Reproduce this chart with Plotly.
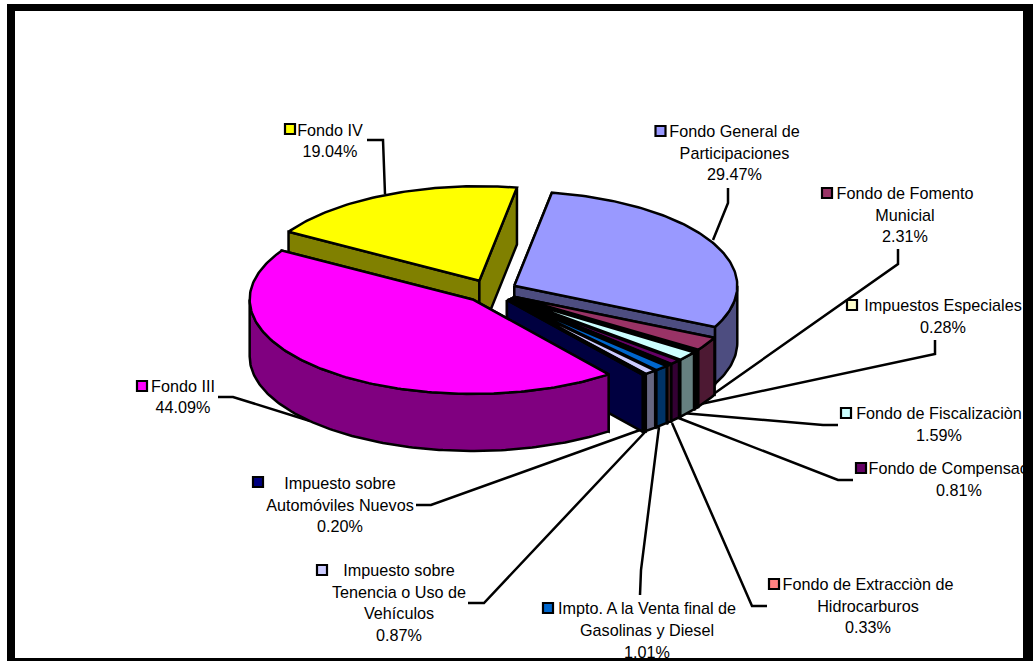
import math
import plotly.graph_objects as go

# ---- data ----
categories = ["Fondo General de Participaciones", "Fondo de Fomento Municial", "Impuestos Especiales",
              "Fondo de Fiscalizaciòn", "Fondo de Compensación", "Fondo de Extracciòn de Hidrocarburos",
              "Impto. A la Venta final de Gasolinas y Diesel", "Impuesto sobre Tenencia o Uso de Vehículos",
              "Impuesto sobre Automóviles Nuevos", "Fondo III", "Fondo IV"]
values = [29.47, 2.31, 0.28, 1.59, 0.81, 0.33, 1.01, 0.87, 0.20, 44.09, 19.04]
top_colors = ["#9999FF", "#993366", "#FFFFCC", "#CCFFFF", "#660066", "#FF8080",
              "#0066CC", "#CCCCFF", "#000080", "#FF00FF", "#FFFF00"]
side_colors = ["#4D4D80", "#4D1933", "#808066", "#668080", "#330033", "#804040",
               "#003366", "#666680", "#000040", "#800080", "#808000"]
label_lines = [["Fondo General de", "Participaciones"], ["Fondo de Fomento", "Municial"],
               ["Impuestos Especiales"], ["Fondo de Fiscalizaciòn"], ["Fondo de Compensación"],
               ["Fondo de Extracciòn de", "Hidrocarburos"], ["Impto. A la Venta final de", "Gasolinas y Diesel"],
               ["Impuesto sobre", "Tenencia o Uso de", "Vehículos"], ["Impuesto sobre", "Automóviles Nuevos"],
               ["Fondo III"], ["Fondo IV"]]

# ---- layout of the projected pie (pixels) ----
W, H = 1033, 661
CX, CY, A, B, DEPTH, EXPLODE = 490.5, 291, 223, 94.5, 57, 0.12
START = 9.7
FONT = "Liberation Sans, Arial, sans-serif"
FS = 16.2
LW = 2.5

# label layout: (centre x, first line y, line step, swatch x, swatch y)
label_pos = [(734.5, 133, 21.5, 660.5, 131), (905, 195, 21.5, 827, 193), (943, 307, 22, 852, 305),
             (939, 415, 22, 846, 413), (959, 470, 22, 861, 468), (868, 586, 21.5, 774, 584),
             (647, 610, 22, 548, 608), (399, 572, 21.7, 322, 570), (340, 485, 21.5, 258, 482),
             (183, 388, 21, 142, 386), (330, 132, 21, 290, 129)]
leaders = [[(728, 188), (728, 203), (713, 240)], [(898, 249), (898, 264), (705, 400)],
           [(935, 340), (935, 354), (696, 405)], [(838, 425), (823, 425), (682, 413)],
           [(853, 480), (838, 480), (676, 417)], [(767, 606), (752, 606), (672, 423)],
           [(640, 595), (641, 570), (659, 427)], [(468, 603), (484, 603), (646, 431)],
           [(416, 505), (431, 505), (640, 430)], [(218, 397), (233, 397), (310, 421)],
           [(367, 140), (383, 140), (385, 194)]]

fig = go.Figure()


def poly(xs, ys, fill):
    fig.add_trace(go.Scatter(x=xs, y=ys, mode="lines", fill="toself", fillcolor=fill,
                             line=dict(color="black", width=LW), hoverinfo="skip", showlegend=False))


def rim(ax, ay, t, dy=0.0):
    r = math.radians(t)
    return ax + A * math.sin(r), ay - B * math.cos(r) + dy


# angles of every slice from its value
spans, cur = [], START
for v in values:
    spans.append((cur, cur + v * 3.6))
    cur += v * 3.6

# leader lines go under the pie so they end cleanly on its rim
def draw_leaders():
    for pts in leaders:
        fig.add_trace(go.Scatter(x=[p[0] for p in pts], y=[p[1] for p in pts], mode="lines",
                                 line=dict(color="black", width=LW), hoverinfo="skip", showlegend=False))


draw_leaders()

# paint back to front: Fondo IV, then clockwise, Fondo III last
order = [10] + list(range(0, 10))
for i in order:
    t0, t1 = spans[i]
    mid = math.radians((t0 + t1) / 2)
    ax = CX + A * EXPLODE * math.sin(mid)
    ay = CY - B * EXPLODE * math.cos(mid)
    # cut walls
    for t in (t0, t1):
        x1, y1 = rim(ax, ay, t)
        poly([ax, x1, x1, ax, ax], [ay, y1, y1 + DEPTH, ay + DEPTH, ay], side_colors[i])
    # outer wall: the part that faces the viewer
    lo, hi = max(t0, 90), min(t1, 270)
    if lo < hi:
        n = max(2, int(hi - lo) + 1)
        ts = [lo + (hi - lo) * k / (n - 1) for k in range(n)]
        up = [rim(ax, ay, t) for t in ts]
        dn = [rim(ax, ay, t, DEPTH) for t in reversed(ts)]
        pts = up + dn + up[:1]
        poly([p[0] for p in pts], [p[1] for p in pts], side_colors[i])
    # top face
    n = max(2, int(t1 - t0) + 1)
    ts = [t0 + (t1 - t0) * k / (n - 1) for k in range(n)]
    pts = [(ax, ay)] + [rim(ax, ay, t) for t in ts] + [(ax, ay)]
    poly([p[0] for p in pts], [p[1] for p in pts], top_colors[i])

# labels and swatches
for i, lines in enumerate(label_lines):
    cx, y0, step, sx, sy = label_pos[i]
    texts = lines + [f"{values[i]:.2f}%"]
    fig.add_trace(go.Scatter(x=[cx] * len(texts), y=[y0 + k * step for k in range(len(texts))],
                             mode="text", text=texts, textposition="middle center",
                             textfont=dict(family=FONT, size=FS, color="black"),
                             hoverinfo="skip", showlegend=False))
    fig.add_trace(go.Scatter(x=[sx], y=[sy], mode="markers",
                             marker=dict(symbol="square", size=10, color=top_colors[i],
                                         line=dict(color="black", width=2.2)),
                             hoverinfo="skip", showlegend=False))

# outer frame, above everything so that it clips the long labels
frame = [(7, 4, 15, 661), (7, 4, 1033, 11), (1023, 4, 1033, 661), (7, 658, 1033, 661)]
shapes = [dict(type="rect", xref="x", yref="y", x0=a, y0=b, x1=c, y1=d, layer="above",
               fillcolor="black", line=dict(width=0)) for a, b, c, d in frame]

fig.update_layout(width=W, height=H, margin=dict(l=0, r=0, t=0, b=0), autosize=False,
                  paper_bgcolor="white", plot_bgcolor="white", shapes=shapes, showlegend=False,
                  xaxis=dict(range=[0, W], visible=False, fixedrange=True),
                  yaxis=dict(range=[H, 0], visible=False, fixedrange=True))
fig.write_html("out.html", config=dict(displayModeBar=False),
               post_script="document.body.style.margin='0';document.documentElement.style.overflow='hidden';")
